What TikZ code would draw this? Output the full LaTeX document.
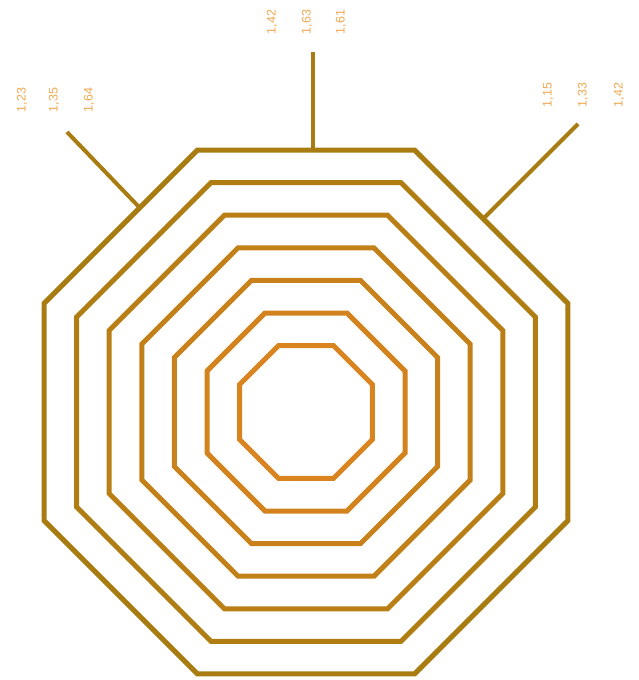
\documentclass[tikz,border=0pt]{standalone}
\usepackage{fontspec}
\setmainfont{Liberation Sans}
\definecolor{ringOuter}{HTML}{A87C10}
\definecolor{ringInner}{HTML}{DA8420}
\definecolor{lblcol}{HTML}{F0A850}
\tikzset{
  ring/.style={line width=5pt, line join=miter},
  leader/.style={line width=4pt, color=ringOuter},
  lbl/.style={rotate=90, text=lblcol, font=\fontsize{12.5}{13}\selectfont, inner sep=0pt}
}
\begin{document}
\begin{tikzpicture}[x=1pt,y=-1pt]
\useasboundingbox (0,0) rectangle (638,680);
\coordinate (c) at (306,412);
\foreach \k in {0,...,6}{
  \pgfmathsetmacro\R{(262-32.6*\k)*1.082392}
  \pgfmathsetmacro\p{100-100*\k/6}
  \draw[ring, color=ringOuter!\p!ringInner, shift={(c)}]
    (22.5:\R) -- (67.5:\R) -- (112.5:\R) -- (157.5:\R) -- (202.5:\R) -- (247.5:\R) -- (292.5:\R) -- (337.5:\R) -- cycle;
}
\coordinate (topA) at (313,152);
\coordinate (topB) at (313,52);
\coordinate (leftA) at (139,207);
\coordinate (leftB) at (67,132);
\coordinate (rightA) at (484,218);
\coordinate (rightB) at (578,124);
\draw[leader] (topA) -- (topB);
\draw[leader] (leftA) -- (leftB);
\draw[leader] (rightA) -- (rightB);
\node[lbl] (l1) at (22,100) {1,23};
\node[lbl] (l2) at (54,100) {1,35};
\node[lbl] (l3) at (89,100) {1,64};
\node[lbl] (t1) at (272,22) {1,42};
\node[lbl] (t2) at (307,22) {1,63};
\node[lbl] (t3) at (341,22) {1,61};
\node[lbl] (r1) at (548,95) {1,15};
\node[lbl] (r2) at (583,95) {1,33};
\node[lbl] (r3) at (619,95) {1,42};
\end{tikzpicture}
\end{document}
